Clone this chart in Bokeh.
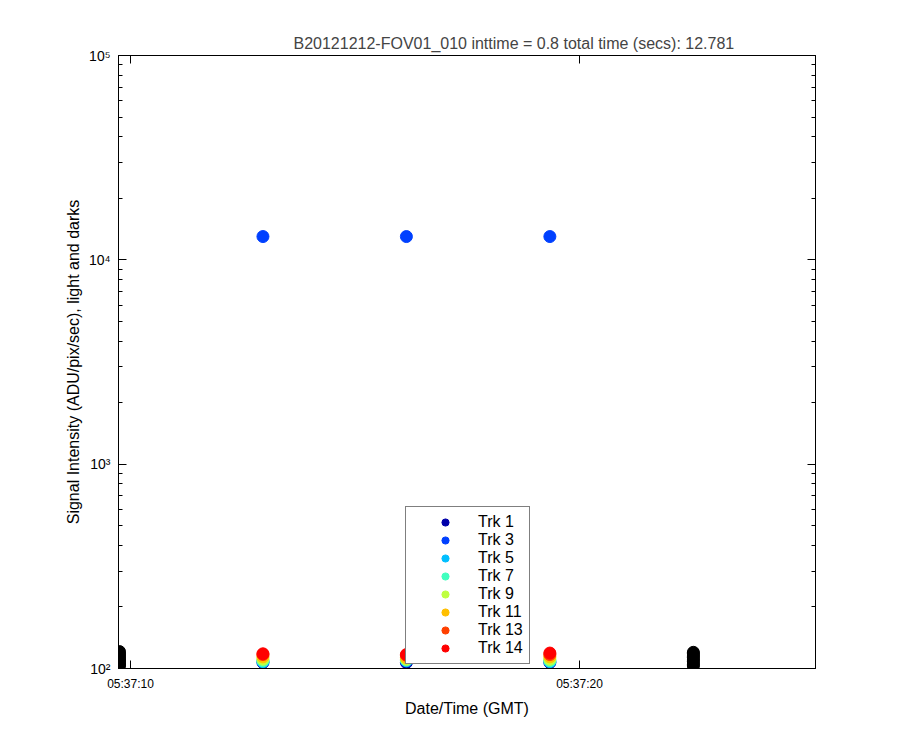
import pandas as pd
from bokeh.plotting import figure
from bokeh.models import (Range1d, FixedTicker, DatetimeTickFormatter, LogAxis,
                          DatetimeAxis, Legend, LegendItem)
from bokeh.embed import file_html
from bokeh.resources import INLINE

# ---------------- data ----------------
title_text = "B20121212-FOV01_010 inttime = 0.8 total time (secs): 12.781"
tracks = ["Trk 1", "Trk 3", "Trk 5", "Trk 7", "Trk 9", "Trk 11", "Trk 13", "Trk 14"]
track_colors = ["#0000AA", "#0040FF", "#00BFFF", "#40FFBF", "#BFFF40", "#FFBF00", "#FF4000", "#FF0000"]

dark_times = ["2012-12-12 05:37:09.755", "2012-12-12 05:37:22.536"]
light_times = ["2012-12-12 05:37:12.950", "2012-12-12 05:37:16.145", "2012-12-12 05:37:19.340"]

# dark signal per track (same ordering as tracks), at each dark time
dark_values_start = [103, 105, 107, 110, 112, 115, 118, 121]
dark_values_end = [103, 105, 108, 110, 113, 115, 118, 120]

# light signal per track, at each light time
light_trk1 = [107, 107, 107]
light_trk3 = [13000, 13000, 13000]
light_trk5 = [108, 109, 108]
light_trk7 = [109, 110, 109]
light_trk9 = [111, 111, 111]
light_trk11 = [114, 113, 114]
light_trk13 = [117, 116, 117]
light_trk14 = [118, 117, 119]
light_values = [light_trk1, light_trk3, light_trk5, light_trk7,
                light_trk9, light_trk11, light_trk13, light_trk14]

x_start = "2012-12-12 05:37:09.733"
x_end = "2012-12-12 05:37:25.256"
x_ticks = ["2012-12-12 05:37:10", "2012-12-12 05:37:20"]
y_ticks = [100, 1000, 10000, 100000]
y_tick_labels = ["10\u00b2", "10\u00b3", "10\u2074", "10\u2075"]

# ---------------- figure ----------------
FONT = "Liberation Sans"

def ms(s):
    return pd.Timestamp(s).value / 1e6

p = figure(width=880, height=730, output_backend="svg", toolbar_location=None,
           x_axis_type="datetime", y_axis_type="log",
           x_range=Range1d(ms(x_start), ms(x_end)),
           y_range=Range1d(100, 100000),
           min_border_left=118, min_border_right=65,
           min_border_top=55, min_border_bottom=62)

p.title.text = title_text
p.title.align = "left"
p.title.offset = 175
p.title.text_font = FONT
p.title.text_font_size = "16px"
p.title.text_font_style = "normal"
p.title.standoff = 8

p.xgrid.visible = False
p.ygrid.visible = False
p.outline_line_color = "black"
p.outline_line_alpha = 1

xticker = FixedTicker(ticks=[ms(t) for t in x_ticks])
fmt = DatetimeTickFormatter(microseconds="%H:%M:%S", milliseconds="%H:%M:%S",
                            seconds="%H:%M:%S", minsec="%H:%M:%S",
                            minutes="%H:%M:%S", hourmin="%H:%M:%S",
                            hours="%H:%M:%S", days="%H:%M:%S",
                            months="%H:%M:%S", years="%H:%M:%S")
minor_y = [m * 10 ** e for e in (2, 3, 4) for m in range(2, 10)]
yticker = FixedTicker(ticks=y_ticks, minor_ticks=minor_y)
overrides = {float(v): lab for v, lab in zip(y_ticks, y_tick_labels)}

def style_axis(ax):
    ax.axis_line_color = "black"
    ax.major_tick_in = 8
    ax.major_tick_out = 0
    ax.minor_tick_in = 4
    ax.minor_tick_out = 0
    ax.major_tick_line_color = "black"
    ax.minor_tick_line_color = "black"
    ax.major_label_text_font = FONT
    ax.major_label_text_font_size = "12px"
    ax.major_label_text_color = "black"
    ax.axis_label_text_font = FONT
    ax.axis_label_text_font_size = "16px"
    ax.axis_label_text_font_style = "normal"
    ax.axis_label_text_color = "black"

xa = p.xaxis[0]
xa.ticker = xticker
xa.formatter = fmt
style_axis(xa)
xa.minor_tick_line_color = None
xa.major_label_standoff = 8
xa.axis_label = "Date/Time (GMT)"
xa.axis_label_standoff = 6

ya = p.yaxis[0]
ya.ticker = yticker
ya.major_label_overrides = overrides
style_axis(ya)
ya.major_label_text_font_size = "14px"
ya.major_label_standoff = 8
ya.axis_label = "Signal Intensity (ADU/pix/sec), light and darks"
ya.axis_label_standoff = 4

top = DatetimeAxis(ticker=xticker, formatter=fmt)
style_axis(top)
top.minor_tick_line_color = None
top.major_label_text_alpha = 0
p.add_layout(top, "above")

right = LogAxis(ticker=yticker)
style_axis(right)
right.major_label_overrides = overrides
right.major_label_text_alpha = 0
p.add_layout(right, "right")

# ---------------- glyphs ----------------
dark_x = [ms(t) for t in dark_times]
light_x = [ms(t) for t in light_times]

for i in range(len(tracks)):
    p.scatter(x=dark_x, y=[dark_values_start[i], dark_values_end[i]],
              size=12, color="black", line_color="black")

items = []
for name, col, vals in zip(tracks, track_colors, light_values):
    r = p.scatter(x=light_x, y=vals, size=12, fill_color=col, line_color=col)
    items.append(LegendItem(label=name, renderers=[r]))

legend = Legend(items=items, location=(287, 4))
legend.border_line_color = "black"
legend.border_line_width = 1
legend.background_fill_color = "white"
legend.background_fill_alpha = 1
legend.margin = 0
legend.padding = 6
legend.spacing = 0
legend.glyph_width = 66
legend.glyph_height = 18
legend.label_height = 18
legend.label_standoff = 0
legend.label_text_font = FONT
legend.label_text_font_size = "16px"
legend.label_text_color = "black"
p.add_layout(legend, "center")

open("out.html", "w").write(file_html(p, INLINE))
